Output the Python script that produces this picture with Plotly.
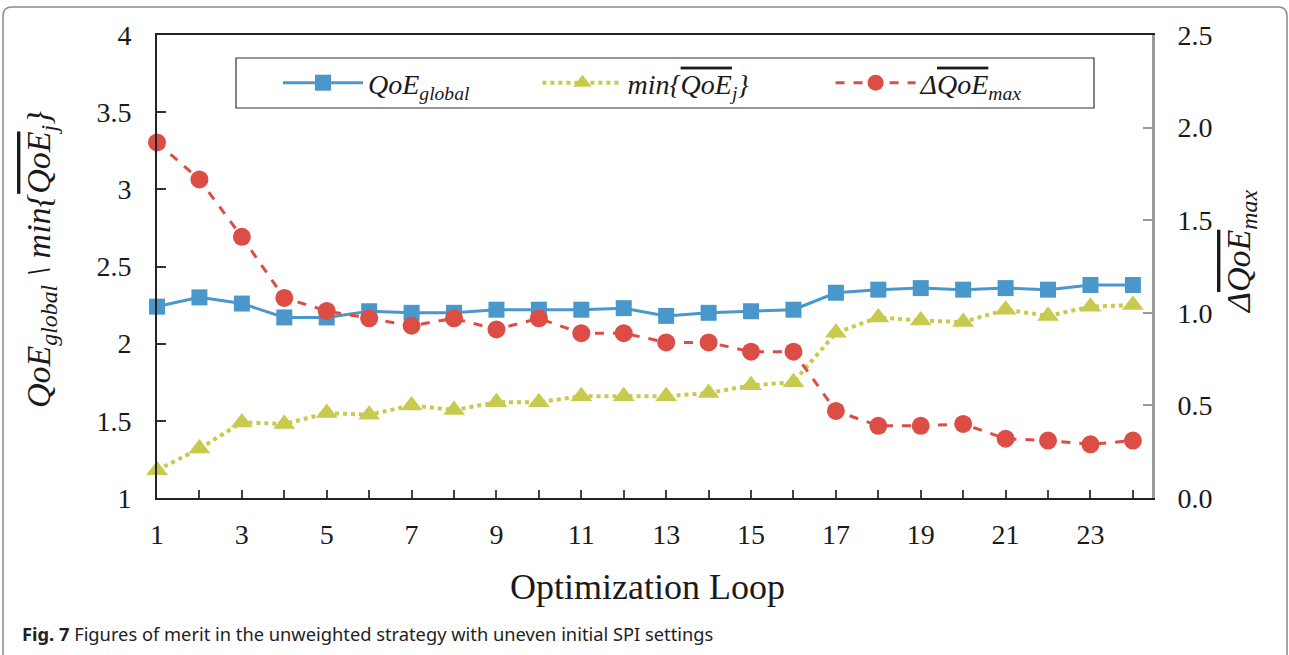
import plotly.graph_objects as go

# Optimization loops
loops = list(range(1, 25))

# Global QoE per loop (left axis)
qoe_global = [2.24, 2.30, 2.26, 2.17, 2.17, 2.21, 2.20, 2.20, 2.22, 2.22, 2.22, 2.23,
              2.18, 2.20, 2.21, 2.22, 2.33, 2.35, 2.36, 2.35, 2.36, 2.35, 2.38, 2.38]

# Minimum mean QoE among users (left axis)
qoe_min = [1.18, 1.32, 1.49, 1.48, 1.55, 1.54, 1.60, 1.57, 1.62, 1.62, 1.66, 1.66,
           1.66, 1.68, 1.73, 1.75, 2.07, 2.17, 2.15, 2.14, 2.22, 2.18, 2.24, 2.25]

# Maximum difference of mean QoE (right axis)
qoe_delta = [1.92, 1.72, 1.41, 1.08, 1.01, 0.97, 0.93, 0.97, 0.91, 0.97, 0.89, 0.89,
             0.84, 0.84, 0.79, 0.79, 0.47, 0.39, 0.39, 0.40, 0.32, 0.31, 0.29, 0.31]

x_ticks = list(range(1, 25))
x_ticktext = [str(v) if v % 2 == 1 else "" for v in x_ticks]
right_ticks = [0.0, 0.5, 1.0, 1.5, 2.0, 2.5]

BLUE = "#4A98CB"
YELLOW = "#C8CA4E"
RED = "#DB4D45"
SERIF = "Liberation Serif"
OL = "<span style='text-decoration:overline'>"
NB = "\u00a0"  # spacing between legend entries

fig = go.Figure()

fig.add_trace(go.Scatter(
    x=loops, y=qoe_global, name="<i>QoE<sub>global</sub></i>" + NB * 9,
    mode="lines+markers", cliponaxis=False,
    line=dict(color=BLUE, width=3),
    marker=dict(symbol="square", size=16, color=BLUE),
))
fig.add_trace(go.Scatter(
    x=loops, y=qoe_min, name=f"<i>min{{{OL}QoE</span><sub>j</sub>}}</i>" + NB * 11,
    mode="lines+markers", cliponaxis=False,
    line=dict(color=YELLOW, width=4, dash="dot"),
    marker=dict(symbol="triangle-up", size=19, color=YELLOW),
))
fig.add_trace(go.Scatter(
    x=loops, y=qoe_delta, name=f"<i>Δ{OL}QoE</span><sub>max</sub></i>",
    mode="lines+markers", cliponaxis=False, yaxis="y2",
    line=dict(color=RED, width=3, dash="dash"),
    marker=dict(symbol="circle", size=18, color=RED),
))

L, R, T, B = 157, 137, 35, 157
W, H = 1289, 655
pw, ph = W - L - R, H - T - B


def px(x):
    return (x - L) / pw


def py(y):
    return (H - B - y) / ph


# rounded frame around the whole figure
x0, x1, y0, y1, r = px(3), px(1287), py(7), py(662), 9
rx, ry = r / pw, r / ph
frame = (f"M {x0},{y1} L {x0},{y0 - ry} Q {x0},{y0} {x0 + rx},{y0} "
         f"L {x1 - rx},{y0} Q {x1},{y0} {x1},{y0 - ry} L {x1},{y1}")

tick_font = dict(family=SERIF, size=28, color="#1a1a1a")
title_font = dict(family=SERIF, size=34, color="#1a1a1a")

fig.update_layout(
    width=W, height=H,
    margin=dict(l=L, r=R, t=T, b=B),
    paper_bgcolor="white", plot_bgcolor="white",
    showlegend=True,
    legend=dict(
        orientation="h", x=px(278), y=py(83), xanchor="left", yanchor="middle",
        bgcolor="rgba(0,0,0,0)", borderwidth=0,
        font=dict(family=SERIF, size=28, color="#1a1a1a"),
        itemwidth=80,
    ),
    xaxis=dict(
        range=[1, 24.45], tickvals=x_ticks, ticktext=x_ticktext,
        showgrid=False, zeroline=False,
        showline=True, linecolor="#222222", linewidth=2, mirror=True,
        ticks="inside", ticklen=8, tickcolor="#444444", tickwidth=1.5,
        tickfont=tick_font, ticklabelstandoff=10,
    ),
    yaxis=dict(
        range=[1, 4], dtick=0.5,
        showgrid=False, zeroline=False,
        showline=True, linecolor="#222222", linewidth=2,
        ticks="inside", ticklen=9, tickcolor="#333333", tickwidth=1.5,
        tickfont=tick_font, ticklabelstandoff=18,
    ),
    yaxis2=dict(
        range=[0, 2.5], tickvals=right_ticks, tickformat=".1f",
        overlaying="y", side="right",
        showgrid=False, zeroline=False,
        showline=True, linecolor="#9a9a9a", linewidth=3,
        ticks="inside", ticklen=9, tickcolor="#9a9a9a", tickwidth=1.5,
        tickfont=tick_font, ticklabelstandoff=17,
    ),
    shapes=[
        dict(type="path", path=frame, xref="paper", yref="paper",
             line=dict(color="#8c8c8c", width=1.5), layer="below"),
        # legend box
        dict(type="rect", xref="paper", yref="paper",
             x0=px(236), x1=px(1094), y0=py(58), y1=py(108),
             line=dict(color="#333333", width=1.2), fillcolor="white", layer="above"),
    ],
    annotations=[
        dict(text="Optimization Loop", x=px(647), y=py(587), xref="paper", yref="paper",
             xanchor="center", yanchor="middle",
             showarrow=False, font=dict(family=SERIF, size=36, color="#1a1a1a")),
        dict(text=f"<i>QoE<sub>global</sub> \\ min{{{OL}QoE</span><sub>j</sub>}}</i>",
             x=px(41), y=py(260), xref="paper", yref="paper", textangle=-90,
             xanchor="center", yanchor="middle",
             showarrow=False, font=title_font),
        dict(text=f"<i>Δ{OL}QoE</span><sub>max</sub></i>",
             x=px(1241), y=py(252), xref="paper", yref="paper", textangle=-90,
             xanchor="center", yanchor="middle",
             showarrow=False, font=title_font),
        dict(text="<b>Fig. 7</b> Figures of merit in the unweighted strategy with uneven initial SPI settings",
             x=px(20), y=py(633), xref="paper", yref="paper", xanchor="left", yanchor="middle",
             showarrow=False, font=dict(family="Noto Sans", size=18.3, color="#222222")),
    ],
)

fig.write_html("out.html")
